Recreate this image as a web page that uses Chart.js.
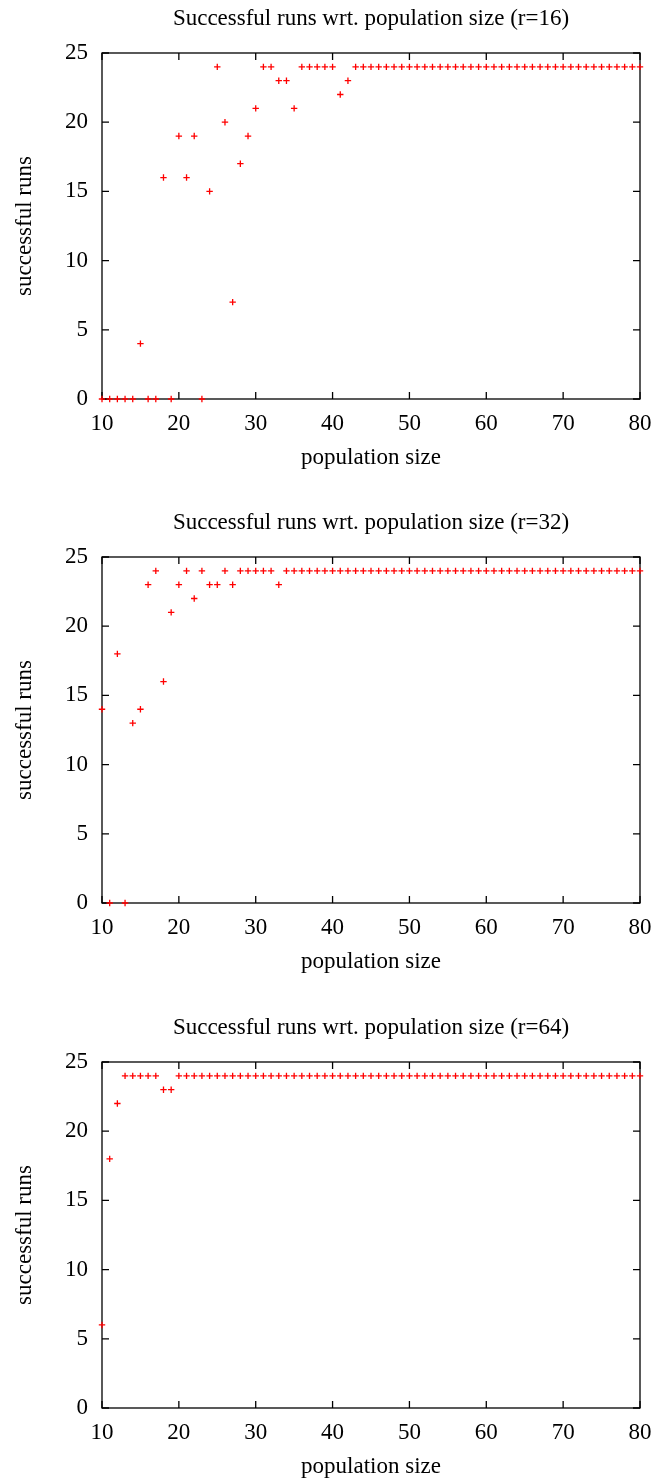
<!DOCTYPE html>
<html>
<head>
<meta charset="utf-8">
<title>Successful runs wrt. population size</title>
<script src="https://cdn.jsdelivr.net/npm/chart.js@4.4.1/dist/chart.umd.min.js"></script>
<style>
    html, body {
        margin: 0;
        padding: 0;
        background: #fff;
        overflow: hidden;
    }
    #page {
        position: relative;
        width: 657px;
        height: 1481px;
    }
    .panel {
        position: absolute;
        left: 0;
        width: 657px;
        height: 504px;
    }
</style>
</head>
<body>
<div id="page">
    <div class="panel" style="top:0px"><canvas id="chart16" width="657" height="504"></canvas></div>
    <div class="panel" style="top:504px"><canvas id="chart32" width="657" height="504"></canvas></div>
    <div class="panel" style="top:1009px"><canvas id="chart64" width="657" height="504"></canvas></div>
</div>
<script>
// population sizes on the x axis
const popSizes = [
    10, 11, 12, 13, 14, 15, 16, 17, 18, 19,
    20, 21, 22, 23, 24, 25, 26, 27, 28, 29,
    30, 31, 32, 33, 34, 35, 36, 37, 38, 39,
    40, 41, 42, 43, 44, 45, 46, 47, 48, 49,
    50, 51, 52, 53, 54, 55, 56, 57, 58, 59,
    60, 61, 62, 63, 64, 65, 66, 67, 68, 69,
    70, 71, 72, 73, 74, 75, 76, 77, 78, 79,
    80
];

// successful runs (out of 24) for r=16, r=32, r=64
const runsR16 = [
    0, 0, 0, 0, 0, 4, 0, 0, 16, 0,
    19, 16, 19, 0, 15, 24, 20, 7, 17, 19,
    21, 24, 24, 23, 23, 21, 24, 24, 24, 24,
    24, 22, 23, 24, 24, 24, 24, 24, 24, 24,
    24, 24, 24, 24, 24, 24, 24, 24, 24, 24,
    24, 24, 24, 24, 24, 24, 24, 24, 24, 24,
    24, 24, 24, 24, 24, 24, 24, 24, 24, 24,
    24
];
const runsR32 = [
    14, 0, 18, 0, 13, 14, 23, 24, 16, 21,
    23, 24, 22, 24, 23, 23, 24, 23, 24, 24,
    24, 24, 24, 23, 24, 24, 24, 24, 24, 24,
    24, 24, 24, 24, 24, 24, 24, 24, 24, 24,
    24, 24, 24, 24, 24, 24, 24, 24, 24, 24,
    24, 24, 24, 24, 24, 24, 24, 24, 24, 24,
    24, 24, 24, 24, 24, 24, 24, 24, 24, 24,
    24
];
const runsR64 = [
    6, 18, 22, 24, 24, 24, 24, 24, 23, 23,
    24, 24, 24, 24, 24, 24, 24, 24, 24, 24,
    24, 24, 24, 24, 24, 24, 24, 24, 24, 24,
    24, 24, 24, 24, 24, 24, 24, 24, 24, 24,
    24, 24, 24, 24, 24, 24, 24, 24, 24, 24,
    24, 24, 24, 24, 24, 24, 24, 24, 24, 24,
    24, 24, 24, 24, 24, 24, 24, 24, 24, 24,
    24
];

const xTickStep = 10;
const yTickStep = 5;
const TICK_LEN = 7;
const FONT = "'Liberation Serif', 'Times New Roman', serif";

Chart.defaults.font.family = FONT;
Chart.defaults.font.size = 23;
Chart.defaults.color = '#000';

// gnuplot style box with inward ticks on all four sides
const gnuplotFrame = {
    id: 'gnuplotFrame',
    beforeDatasetsDraw(chart) {
        const ctx = chart.ctx;
        const a = chart.chartArea;
        const xs = chart.scales.x;
        const ys = chart.scales.y;
        ctx.save();
        ctx.strokeStyle = '#000';
        ctx.lineWidth = 1.3;
        ctx.strokeRect(a.left, a.top, a.right - a.left, a.bottom - a.top);
        ctx.beginPath();
        xs.ticks.forEach(t => {
            const px = xs.getPixelForValue(t.value);
            ctx.moveTo(px, a.bottom);
            ctx.lineTo(px, a.bottom - TICK_LEN);
            ctx.moveTo(px, a.top);
            ctx.lineTo(px, a.top + TICK_LEN);
        });
        ys.ticks.forEach(t => {
            const py = ys.getPixelForValue(t.value);
            ctx.moveTo(a.left, py);
            ctx.lineTo(a.left + TICK_LEN, py);
            ctx.moveTo(a.right, py);
            ctx.lineTo(a.right - TICK_LEN, py);
        });
        ctx.stroke();
        ctx.restore();
    }
};

// title centred over the plot box, like gnuplot does it
const plotTitle = {
    id: 'plotTitle',
    afterDraw(chart, args, opts) {
        const ctx = chart.ctx;
        const a = chart.chartArea;
        ctx.save();
        ctx.font = `23px ${FONT}`;
        ctx.fillStyle = '#000';
        ctx.textAlign = 'center';
        ctx.textBaseline = 'middle';
        ctx.fillText(opts.text, (a.left + a.right) / 2, 19);
        ctx.restore();
    }
};

function makeChart(canvasId, r, runs) {
    const points = popSizes.map((p, i) => ({ x: p, y: runs[i] }));
    return new Chart(document.getElementById(canvasId), {
        type: 'scatter',
        data: {
            datasets: [{
                data: points,
                pointStyle: 'cross',
                pointRadius: 3.2,
                pointHoverRadius: 3.2,
                borderColor: '#ff0000',
                backgroundColor: '#ff0000',
                borderWidth: 1.3,
                clip: false
            }]
        },
        options: {
            responsive: false,
            animation: false,
            events: [],
            layout: {
                padding: { left: 0, right: 17, top: 53, bottom: 0 }
            },
            plugins: {
                legend: { display: false },
                tooltip: { enabled: false },
                title: { display: false },
                plotTitle: { text: `Successful runs wrt. population size (r=${r})` }
            },
            scales: {
                x: {
                    type: 'linear',
                    min: 10,
                    max: 80,
                    grid: { display: false, drawTicks: false },
                    border: { display: false },
                    ticks: { stepSize: xTickStep, padding: 11, maxRotation: 0 },
                    title: {
                        display: true,
                        text: 'population size',
                        padding: { top: 32, bottom: 32 }
                    },
                    afterFit(scale) {
                        scale.height = 105;
                        // labels may hang over the box edges, the layout padding covers them
                        scale.paddingLeft = 0;
                        scale.paddingRight = 0;
                    }
                },
                y: {
                    min: 0,
                    max: 25,
                    grid: { display: false, drawTicks: false },
                    border: { display: false },
                    ticks: { stepSize: yTickStep, padding: 14 },
                    title: {
                        display: true,
                        text: 'successful runs',
                        padding: { top: 11, bottom: 11 }
                    },
                    afterFit(scale) { scale.width = 102; }
                }
            }
        },
        plugins: [gnuplotFrame, plotTitle]
    });
}

makeChart('chart16', 16, runsR16);
makeChart('chart32', 32, runsR32);
makeChart('chart64', 64, runsR64);
</script>
</body>
</html>
